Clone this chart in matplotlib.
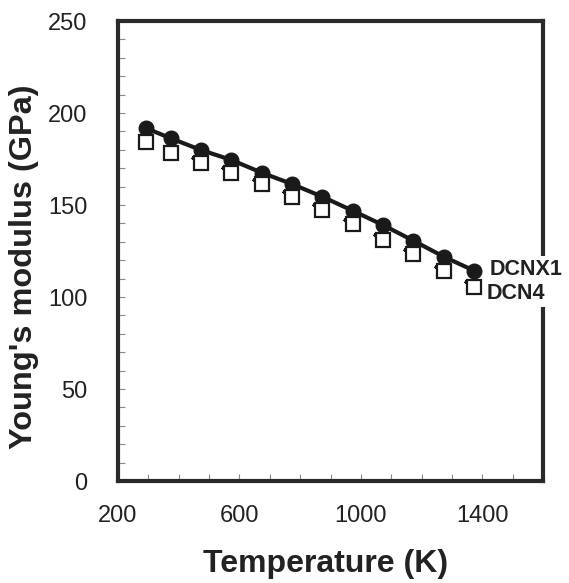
import matplotlib
matplotlib.use("Agg")
import matplotlib.pyplot as plt
from matplotlib.ticker import MultipleLocator
import matplotlib.transforms as mtransforms

temperature = [293, 373, 473, 573, 673, 773, 873, 973, 1073, 1173, 1273, 1373]
dcnx1 = [191.7, 186.3, 179.9, 174.5, 167.6, 161.4, 154.5, 146.9, 139.1, 130.6, 121.9, 114.3]
dcn4 = [184.1, 178.4, 173.0, 167.6, 161.4, 154.5, 147.3, 139.5, 131.0, 123.2, 114.1, 105.6]
x_ticks = [200, 600, 1000, 1400]
y_ticks = [0, 50, 100, 150, 200, 250]

plt.rcParams['font.family'] = ['Liberation Sans', 'DejaVu Sans']

fig = plt.figure(figsize=(5.69, 5.83), dpi=100)
ax = fig.add_axes([118/569, 102/583, 425/569, 460/583])

dark = '#2a2a2a'
ax.plot(temperature, dcnx1, '-o', color='#1a1a1a', lw=3, markersize=10.5, zorder=3)

# small dark flag marks to the upper-left of the squares
off = mtransforms.ScaledTranslation(-6/100, 3.5/100, fig.dpi_scale_trans)
ax.plot(temperature[2:], dcn4[2:], linestyle='none', marker=(2, 2, 60), markersize=6,
        markeredgewidth=2.2, color='#1a1a1a', transform=ax.transData + off, zorder=2)
ax.plot(temperature, dcn4, linestyle='none', marker='s', markersize=9.5,
        markerfacecolor='white', markeredgecolor='#1a1a1a', markeredgewidth=1.6, zorder=4)

ax.set_xlim(200, 1600)
ax.set_ylim(0, 250)
ax.set_xticks(x_ticks)
ax.set_yticks(y_ticks)
ax.xaxis.set_minor_locator(MultipleLocator(100))
ax.yaxis.set_minor_locator(MultipleLocator(10))
ax.tick_params(which='both', direction='in', top=False, right=False, colors='#888888',
               labelcolor='#222222', labelsize=17)
ax.tick_params(which='major', length=5, width=0.8)
ax.tick_params(which='minor', length=5, width=0.8)
ax.tick_params(axis='y', which='major', pad=22)
ax.tick_params(axis='x', which='major', pad=17)

for s in ax.spines.values():
    s.set_linewidth(3)
    s.set_color(dark)

ax.set_xlabel('Temperature (K)', fontsize=23, fontweight='bold', color='#222222')
ax.set_ylabel("Young's modulus (GPa)", fontsize=23.4, fontweight='bold', color='#222222')
ax.xaxis.set_label_coords(0.488, -0.148)
ax.yaxis.set_label_coords(-0.186, 0.465)

lab_font = dict(fontsize=15.5, fontweight='bold', color='#222222')
ax.annotate('DCNX1', (temperature[-1], dcnx1[-1]), xytext=(11, 1), textcoords='offset points',
            ha='left', va='center', zorder=6,
            bbox=dict(facecolor='white', edgecolor='none', pad=2), annotation_clip=False, **lab_font)
ax.annotate('DCN4', (temperature[-1], dcn4[-1]), xytext=(9, -5), textcoords='offset points',
            ha='left', va='center', zorder=6,
            bbox=dict(facecolor='white', edgecolor='none', pad=2), annotation_clip=False, **lab_font)

fig.savefig('out.png', dpi=100)
